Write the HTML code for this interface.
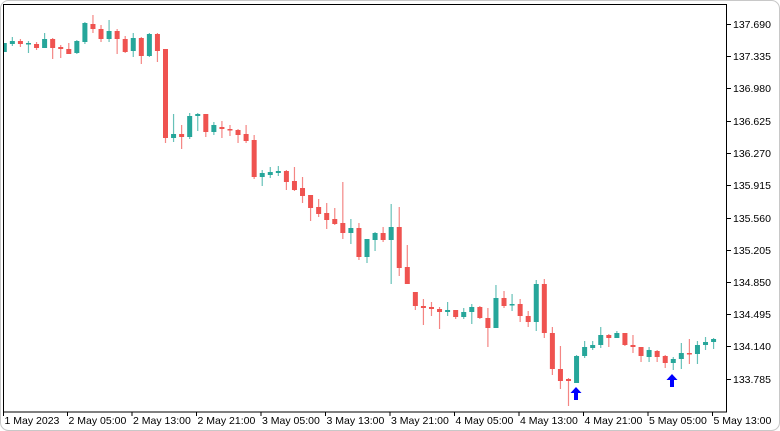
<!DOCTYPE html>
<html><head><meta charset="utf-8"><style>
html,body{margin:0;padding:0;background:#fff;}
svg{display:block;font-family:"Liberation Sans",Tahoma,sans-serif;}
</style></head><body>
<svg id="c" width="780" height="431" xmlns="http://www.w3.org/2000/svg">
<rect x="0.5" y="0.5" width="779" height="430" rx="8" fill="#fff" stroke="#c8c8c8"/>
<g id="candles"></g>
<rect x="3.5" y="4.5" width="723" height="407.5" fill="none" stroke="#000" stroke-width="1"/>
<g id="axes" font-size="10.5" fill="#000"></g>
</svg>
<script>
var d=[
[43,52,43,52,'g'],[44,41,37,46,'g'],[41,44,39,47,'r'],[44,43,41,53,'g'],[44,48,42,50,'r'],
[48,39,33,48,'g'],[39,48,38,59,'r'],[47,49,45,58,'r'],[49,54,43,54,'r'],[53,41,40,54,'g'],
[42,23,22,44,'g'],[24,29,15,33,'r'],[29,39,25,42,'r'],[39,31,20,42,'g'],[31,39,29,54,'r'],
[39,52,36,53,'r'],[51,38,33,57,'g'],[38,56,37,64,'r'],[56,34,33,57,'g'],[34,51,33,62,'r'],
[49,138,49,143,'r'],[138,134,114,142,'g'],[134,137,125,149,'r'],[137,116,113,139,'g'],[116,114,113,131,'g'],
[114,132,114,137,'r'],[132,125,122,135,'g'],[127,129,121,138,'r'],[129,129.5,125,136,'r'],[130,135,129,143,'r'],
[134,141,125,143,'r'],[140,177,135,179,'r'],[177,173,170,186,'g'],[175,172,167,178,'g'],[173,171,166,176,'g'],
[171,182,170,190,'r'],[181,190,167,191,'r'],[188,196,177,203,'r'],[195,208,195,221,'r'],[207,214,199,217,'r'],
[213,220,203,229,'r'],[219,224,208,225,'r'],[223,233,182,239,'r'],[233,228,219,244,'g'],[228,257,223,260,'r'],
[257,239,239,263,'g'],[240,233,232,251,'g'],[233,240,227,242,'r'],[240,227,204,284,'g'],[227,268,207,276,'r'],
[267,284,245,284,'r'],[292,306,292,310,'r'],[306,308,299,325,'r'],[307,309,302,316,'r'],[309,312,307,329,'r'],
[312,310,302,316,'g'],[310,317,310,319,'r'],[317,312,308,319,'g'],[312,307,304,324,'g'],[307,318,306,319,'r'],
[318,328,308,347,'r'],[328,298,285,328,'g'],[298,306,291,308,'r'],[305,304,294,311,'g'],[304,316,299,322,'r'],
[316,322,311,327,'r'],[322,284,280,331,'g'],[284,333,279,338,'r'],[333,369,327,375,'r'],[369,381,346,389,'r'],
[379,381,378,406,'r'],[383,356,355,383,'g'],[356,347,341,358,'g'],[348,345,341,350,'g'],[345,335,327,348,'g'],
[335,338,334,347,'r'],[338,333,331,338,'g'],[333,345,333,346,'r'],[345,347,335,353,'r'],[347,356,347,362,'r'],
[357,350,347,362,'g'],[351,357,350,362,'r'],[356,363,355,368,'r'],[363,359,357,370,'g'],[359,353,343,369,'g'],
[353,354,339,364,'r'],[354,345,341,364,'g'],[345,342,337,350,'g'],[342,339,338,349,'g']
];
var s='';
d.forEach(function(c,i){
 var x=4.3+8.06*i,col=c[4]=='g'?'#26a69a':'#ef5350';
 var t=Math.min(c[0],c[1]),b=Math.max(c[0],c[1]);if(b-t<1.5)b=t+1.5;
 var xl=Math.max(x-2.5,4);
 s+='<line x1="'+x+'" x2="'+x+'" y1="'+c[2]+'" y2="'+c[3]+'" stroke="'+col+'" stroke-opacity="0.7" stroke-width="1.2"/>';
 s+='<rect x="'+xl+'" y="'+t+'" width="'+(x+2.5-xl)+'" height="'+(b-t)+'" fill="'+col+'"/>';
});
function arrow(x,y){return '<path d="M'+x+' '+y+' l-5.5 6 h3.5 v7 h4 v-7 h3.5 z" fill="#0000ff"/>';}
s+=arrow(576,387)+arrow(672,374);
document.getElementById('candles').innerHTML=s;
var a='';
var yl=[['137.690',24],['137.335',56],['136.980',88],['136.625',121],['136.270',153],['135.915',185],['135.560',218],['135.205',250],['134.850',282],['134.495',314],['134.140',346],['133.785',379]];
yl.forEach(function(v){a+='<line x1="726" x2="731" y1="'+(v[1]+0.5)+'" y2="'+(v[1]+0.5)+'" stroke="#000"/><text x="733" y="'+(v[1]+4)+'">'+v[0]+'</text>';});
var xl=[['1 May 2023',3.5],['2 May 05:00',67.5],['2 May 13:00',132],['2 May 21:00',196.5],['3 May 05:00',261],['3 May 13:00',325.5],['3 May 21:00',390],['4 May 05:00',454.5],['4 May 13:00',519],['4 May 21:00',583.5],['5 May 05:00',648],['5 May 13:00',712.5]];
xl.forEach(function(v){a+='<line x1="'+v[1]+'" x2="'+v[1]+'" y1="412" y2="416" stroke="#000"/><text x="'+(v[1]+1)+'" y="424">'+v[0]+'</text>';});
document.getElementById('axes').innerHTML=a;
</script>
</body></html>
